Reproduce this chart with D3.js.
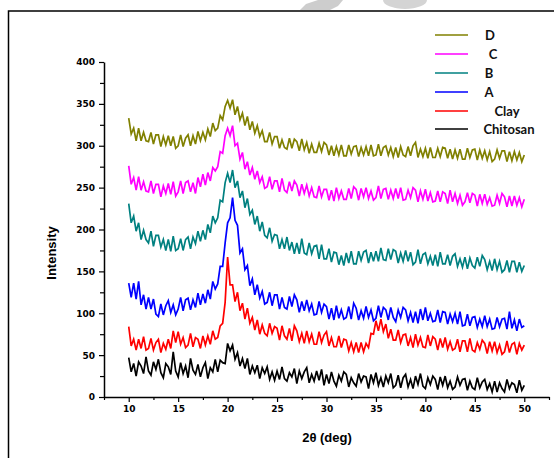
<!DOCTYPE html>
<html>
<head>
<meta charset="utf-8">
<script src="https://cdn.jsdelivr.net/npm/d3@7"></script>
<style>
  body { margin: 0; background: #fff; }
  svg { display: block; }
</style>
</head>
<body>
<div id="chart"></div>
<script>
var w = 554, h = 458;

// 2theta grid, 10 to 50 deg, every 0.25 deg
var angles = d3.range(0, 161).map(function(i) { return 10 + i * 0.25; });

var seriesNames = ['D', 'C', 'B', 'A', 'Clay', 'Chitosan'];
var colors = ['#808000', '#FF00FF', '#008080', '#0000FF', '#FF0000', '#000000'];

var xTicks = [10, 15, 20, 25, 30, 35, 40, 45, 50];
var yTicks = [0, 50, 100, 150, 200, 250, 300, 350, 400];

var chitosan = [
  47,30,40,25, 42,37,28,48, 31,26,42,33, 45,29,23,40, 36,27,54,31,
  24,41,28,37, 23,46,32,27, 39,24,35,41, 22,35,30,45, 30,44,41,40,
  64,55,62,45, 53,37,46,34, 46,27,37,29, 38,22,35,28, 36,21,30,20,
  31,21,36,22, 19,29,24,34, 16,31,22,30, 35,17,27,19, 31,20,33,14,
  27,16,30,19, 13,26,19,30, 27,12,23,17, 13,28,18,25, 24,10,27,17,
  29,14,23,12, 25,17,28,11, 14,26,11,23, 27,12,21,10, 25,15,28,13,
  10,23,15,25, 21,9,24,14, 25,11,19,9, 12,24,14,21, 22,8,19,11,
  9,23,11,18, 21,9,16,6, 19,6,17,10, 6,21,10,17, 15,5,20,8,
  14
];

var clay = [
  84,61,69,56, 69,58,72,56, 58,70,56,65, 69,53,64,57, 69,58,79,65,
  78,63,71,59, 62,76,60,71, 69,58,73,62, 73,63,79,69, 71,85,88,113,
  167,134,134,114, 125,103,112,93, 106,88,95,80, 92,75,86,76, 73,88,76,84,
  82,68,85,73, 69,82,67,85, 79,66,76,64, 79,66,75,63, 63,78,65,74,
  78,61,71,60, 60,73,59,69, 68,55,65,54, 65,53,65,54, 64,59,76,75,
  91,79,93,78, 87,70,81,68, 68,80,65,74, 75,61,71,59, 75,62,71,60,
  59,74,61,72, 69,56,70,59, 71,57,66,56, 58,69,54,67, 67,54,70,56,
  54,65,57,68, 64,52,66,55, 66,53,62,51, 54,67,53,63, 65,51,64,56,
  62
];

var sampleA = [
  136,119,136,117, 138,110,122,105, 119,105,117,99, 96,111,98,109, 115,101,110,98,
  105,119,103,116, 118,104,116,107, 124,110,123,112, 128,117,138,129, 135,156,156,184,
  208,214,238,211, 205,172,177,152, 157,133,141,122, 134,118,126,111, 113,125,109,122,
  122,105,119,107, 105,120,108,122, 116,101,114,103, 116,103,111,98, 99,114,101,111,
  108,93,106,92, 109,94,104,93, 95,108,93,112, 106,92,103,94, 108,95,104,91,
  94,109,95,107, 104,92,107,95, 90,104,95,107, 104,91,101,89, 102,88,105,92,
  107,91,100,90, 91,104,89,102, 101,87,99,90, 100,87,102,85, 86,99,85,95,
  96,83,93,84, 97,84,93,81, 82,95,84,93, 94,81,102,82, 92,79,93,83,
  85
];

var sampleB = [
  231,208,216,198, 208,188,199,188, 184,198,180,193, 193,179,188,175, 188,174,192,175,
  177,189,175,188, 191,177,191,183, 198,186,199,188, 206,196,216,208, 214,235,233,256,
  267,256,271,250, 258,238,246,226, 237,218,223,206, 216,198,209,193, 190,202,186,194,
  193,177,188,177, 191,175,185,171, 184,171,189,172, 170,184,171,180, 181,165,182,165,
  165,177,161,173, 172,158,169,157, 172,160,174,159, 159,174,163,173, 175,160,173,162,
  174,162,178,164, 163,177,164,176, 174,160,172,162, 175,162,173,158, 161,176,159,170,
  172,159,168,157, 170,156,173,159, 159,170,157,168, 171,156,165,155, 167,153,166,157,
  154,167,156,169, 164,152,162,151, 165,152,162,149, 152,163,149,162, 162,149,161,150,
  157
];

var sampleC = [
  276,254,262,247, 263,247,257,246, 245,258,243,254, 254,239,252,243, 255,242,257,240,
  245,258,243,256, 258,245,256,243, 262,251,266,253, 268,258,274,270, 275,293,291,312,
  321,312,324,300, 303,284,292,272, 281,265,274,260, 270,256,263,249, 251,263,248,258,
  258,245,261,247, 244,257,246,258, 253,240,254,243, 253,240,250,239, 238,252,239,248,
  248,235,247,234, 250,237,246,236, 236,249,237,251, 248,235,249,239, 250,237,246,235,
  238,252,237,248, 249,236,247,237, 249,237,250,235, 236,247,238,250, 247,233,246,236,
  248,234,244,233, 234,246,233,245, 243,231,247,233, 243,231,241,229, 233,244,232,243,
  241,228,242,231, 242,230,238,228, 229,241,231,243, 239,227,240,228, 240,229,238,227,
  236
];

var sampleD = [
  333,314,321,306, 321,306,316,306, 305,316,302,313, 313,299,311,301, 312,300,311,297,
  300,313,299,309, 313,300,312,302, 317,306,316,307, 320,311,327,318, 321,336,331,347,
  354,345,355,337, 347,331,339,324, 335,319,329,315, 324,311,318,305, 305,316,302,311,
  311,297,307,298, 296,309,297,308, 305,294,308,295, 304,291,302,292, 292,303,293,304,
  301,289,300,288, 299,289,301,288, 288,301,290,299, 300,287,298,289, 299,288,301,288,
  289,302,288,298, 300,289,298,287, 298,286,299,289, 287,299,288,300, 304,286,296,287,
  297,285,298,286, 286,297,287,298, 297,285,296,284, 295,285,296,284, 284,297,286,295,
  296,283,295,285, 294,283,293,281, 284,295,285,294, 294,281,293,282, 293,283,292,281,
  289
];

var seriesValues = [sampleD, sampleC, sampleB, sampleA, clay, chitosan];

var svg = d3.select('#chart')
  .append('svg')
  .attr('width', w)
  .attr('height', h);

// faint watermark bits peeking over the frame
svg.append('path')
  .attr('d', 'M300,10 L306,4 L318,0 L343,0 L338,6 L330,10 Z')
  .attr('fill', '#cdcdcd');
svg.append('path')
  .attr('d', 'M383,0 A22,9 0 0 0 427,0 Z')
  .attr('fill', '#d4d4d4');

// outer frame (top and left edges only show)
svg.append('path')
  .attr('d', 'M8.5,' + h + ' L8.5,11 L' + w + ',11')
  .attr('fill', 'none')
  .attr('stroke', '#000')
  .attr('stroke-width', 1.5);

var x = d3.scaleLinear().domain([7.5, 52.5]).range([104, 549]);
var y = d3.scaleLinear().domain([0, 400]).range([397, 62]);

// minor ticks first
svg.append('g')
  .attr('transform', 'translate(0,397)')
  .call(d3.axisBottom(x).tickValues(d3.range(7.5, 52.6, 5)).tickSize(3).tickFormat(''))
  .call(function(g) { g.select('.domain').remove(); });
svg.append('g')
  .attr('transform', 'translate(104,0)')
  .call(d3.axisLeft(y).tickValues(d3.range(25, 400, 50)).tickSize(4).tickFormat(''))
  .call(function(g) { g.select('.domain').remove(); });

var xAxis = svg.append('g')
  .attr('transform', 'translate(0,397)')
  .call(d3.axisBottom(x).tickValues(xTicks).tickSize(5).tickSizeOuter(0).tickPadding(4));
var yAxis = svg.append('g')
  .attr('transform', 'translate(104,0)')
  .call(d3.axisLeft(y).tickValues(yTicks).tickSize(5).tickSizeOuter(0).tickPadding(4));

svg.selectAll('.tick line').attr('stroke', '#000').attr('stroke-width', 1.2);
svg.selectAll('.domain').attr('stroke', '#000').attr('stroke-width', 1.5);
svg.selectAll('.tick text')
  .attr('font-family', 'DejaVu Sans')
  .attr('font-weight', 'bold')
  .attr('font-size', 9)
  .attr('fill', '#000');

svg.append('text')
  .attr('transform', 'translate(56,253) rotate(-90)')
  .attr('text-anchor', 'middle')
  .attr('font-family', 'Liberation Sans')
  .attr('font-weight', 'bold')
  .attr('font-size', 13)
  .text('Intensity');

svg.append('text')
  .attr('x', 327)
  .attr('y', 442)
  .attr('text-anchor', 'middle')
  .attr('font-family', 'Liberation Sans')
  .attr('font-weight', 'bold')
  .attr('font-size', 13)
  .text('2θ (deg)');

var line = d3.line()
  .x(function(d, i) { return x(angles[i]); })
  .y(function(d) { return y(d); });

seriesValues.forEach(function(vals, i) {
  svg.append('path')
    .datum(vals)
    .attr('d', line)
    .attr('fill', 'none')
    .attr('stroke', colors[i])
    .attr('stroke-width', 1.7)
    .attr('stroke-linejoin', 'miter');
});

// legend
var legY = [35, 54, 73, 92, 111, 129];
var legX = [490, 493, 489, 489, 507, 509];
var leg = svg.append('g');
seriesNames.forEach(function(name, i) {
  leg.append('line')
    .attr('x1', 435).attr('x2', 468)
    .attr('y1', legY[i]).attr('y2', legY[i])
    .attr('stroke', colors[i])
    .attr('stroke-width', 1.3);
  leg.append('text')
    .attr('x', legX[i])
    .attr('y', legY[i] + 5)
    .attr('text-anchor', 'middle')
    .attr('font-family', 'Lato')
    .attr('font-weight', 'bold')
    .attr('font-size', 13)
    .attr('fill', '#111')
    .text(name);
});
</script>
</body>
</html>
